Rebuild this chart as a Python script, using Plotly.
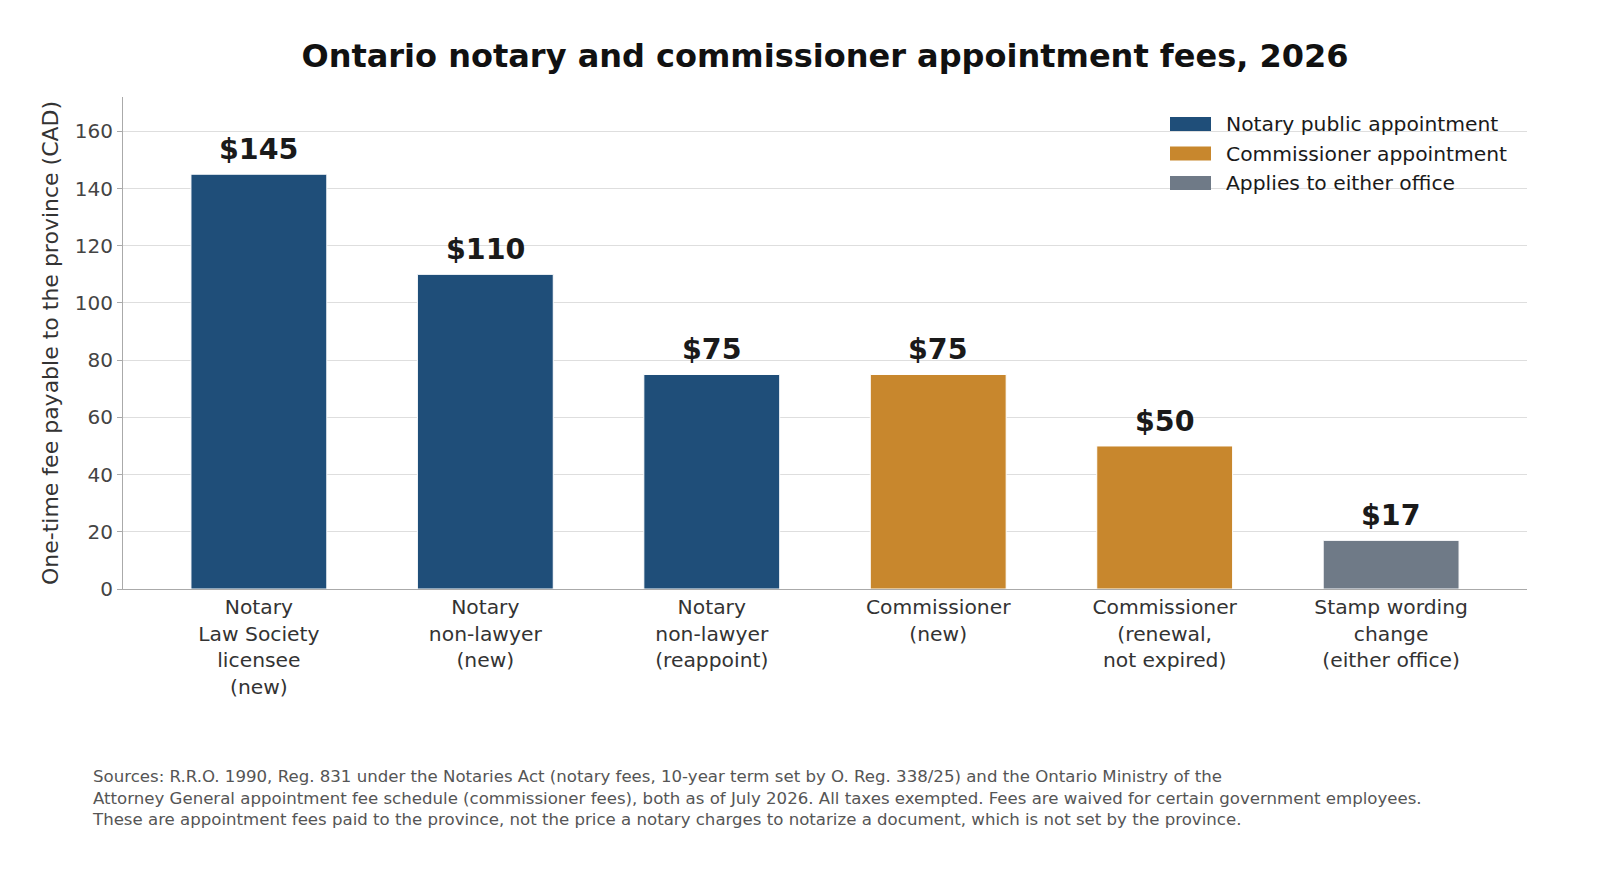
import plotly.graph_objects as go

# ---- data ----
categories = [
    "Notary<br>Law Society<br>licensee<br>(new)",
    "Notary<br>non-lawyer<br>(new)",
    "Notary<br>non-lawyer<br>(reappoint)",
    "Commissioner<br>(new)",
    "Commissioner<br>(renewal,<br>not expired)",
    "Stamp wording<br>change<br>(either office)",
]
fees = [145, 110, 75, 75, 50, 17]
groups = ["notary", "notary", "notary", "commissioner", "commissioner", "either"]

legend_keys = ["notary", "commissioner", "either"]
legend_names = ["Notary public appointment", "Commissioner appointment", "Applies to either office"]
colors = {"notary": "#1f4e79", "commissioner": "#c8872d", "either": "#6f7a87"}

title = "Ontario notary and commissioner appointment fees, 2026"
y_title = "One-time fee payable to the province (CAD)"
y_ticks = [0, 20, 40, 60, 80, 100, 120, 140, 160]
footnote = ("Sources: R.R.O. 1990, Reg. 831 under the Notaries Act (notary fees, 10-year term set by O. Reg. 338/25) and the Ontario Ministry of the<br>"
            "Attorney General appointment fee schedule (commissioner fees), both as of July 2026. All taxes exempted. Fees are waived for certain government employees.<br>"
            "These are appointment fees paid to the province, not the price a notary charges to notarize a document, which is not set by the province.")

FONT = "DejaVu Sans"
xs = list(range(len(categories)))

fig = go.Figure()
fig.add_trace(go.Bar(
    x=xs, y=fees, width=0.6,
    marker=dict(color=[colors[g] for g in groups], line=dict(color="white", width=1)),
    showlegend=False, hoverinfo="x+y",
))

annotations = []
for x, v in zip(xs, fees):
    annotations.append(dict(
        x=x, y=v, xref="x", yref="y", text=f"<b>${v}</b>", showarrow=False,
        yanchor="bottom", yshift=6, font=dict(family=FONT, size=28.5, color="#1a1a1a")))

# custom legend (wide swatches like the reference)
L, T, W, H = 123, 97, 1404, 492
def px_x(p):
    return (p - L) / W
def px_y(p):
    return (T + H - p) / H

shapes = []
row_y = [124, 153.5, 183]
for key, name, yc in zip(legend_keys, legend_names, row_y):
    shapes.append(dict(type="rect", xref="paper", yref="paper",
                       x0=px_x(1170), x1=px_x(1211), y0=px_y(yc + 7), y1=px_y(yc - 7),
                       fillcolor=colors[key], line=dict(width=0)))
    annotations.append(dict(x=px_x(1224), y=px_y(yc), xref="paper", yref="paper",
                            text=name, showarrow=False, xanchor="left", yanchor="middle",
                            font=dict(family=FONT, size=20.3, color="#1a1a1a")))

annotations.append(dict(x=px_x(90), y=px_y(765), xref="paper", yref="paper",
                        text=footnote, showarrow=False, xanchor="left", yanchor="top",
                        align="left", font=dict(family=FONT, size=16.6, color="#555555")))

fig.update_layout(
    width=1600, height=887,
    margin=dict(l=L, r=1600 - L - W, t=T, b=887 - T - H, autoexpand=False),
    paper_bgcolor="white", plot_bgcolor="white",
    title=dict(text=f"<b>{title}</b>", x=(L + W / 2) / 1600, xanchor="center",
               y=1 - 56 / 887, yanchor="middle", yref="container",
               font=dict(family=FONT, size=32, color="#111111")),
    font=dict(family=FONT),
    xaxis=dict(tickmode="array", tickvals=xs, ticktext=categories, range=[-0.6, 5.6],
               showline=True, linecolor="#aaaaaa", linewidth=1.2, ticks="",
               showgrid=False, zeroline=False,
               tickfont=dict(family=FONT, size=20.3, color="#333333")),
    yaxis=dict(range=[0, 172], tickvals=y_ticks, showline=True, linecolor="#aaaaaa", linewidth=1.2,
               ticks="outside", ticklen=5, tickcolor="#aaaaaa",
               showgrid=True, gridcolor="#dedede", gridwidth=1, zeroline=False,
               tickfont=dict(family=FONT, size=20, color="#444444"),
               title=dict(text=y_title, standoff=10, font=dict(family=FONT, size=22, color="#333333"))),
    annotations=annotations, shapes=shapes, bargap=0.4,
)

fig.write_html("out.html", config={"displayModeBar": False},
               post_script="document.body.style.margin='0';document.body.style.overflow='hidden';")
